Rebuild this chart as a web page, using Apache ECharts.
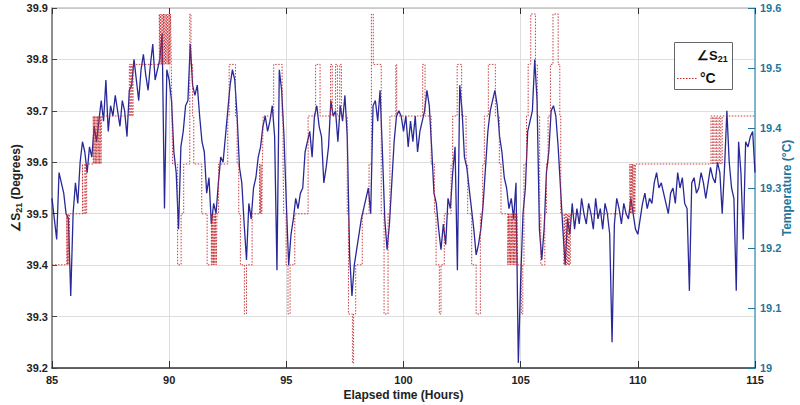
<!DOCTYPE html>
<html>
<head>
<meta charset="utf-8">
<script src="https://cdn.jsdelivr.net/npm/echarts@6/dist/echarts.min.js"></script>
<style>
  html, body { margin: 0; padding: 0; background: #fff; }
  #chart { width: 800px; height: 405px; }
</style>
</head>
<body>
<div id="chart"></div>
<script>
// Elapsed-time axis (hours) and the two y-axis ranges
const hourTicks = [85, 90, 95, 100, 105, 110, 115];
const phaseTicks = [39.2, 39.3, 39.4, 39.5, 39.6, 39.7, 39.8, 39.9];
const tempTicks = [19, 19.1, 19.2, 19.3, 19.4, 19.5, 19.6];

// Phase of S21 (degrees), sampled every 0.1 h starting at 85 h
const phaseStartHour = 85;
const phaseStepHour = 0.1;
const phaseDeg = [
  39.53, 39.49, 39.45, 39.58, 39.56, 39.54, 39.50, 39.49, 39.34, 39.50,
  39.56, 39.52, 39.60, 39.64, 39.62, 39.58, 39.63, 39.61, 39.67, 39.64,
  39.68, 39.72, 39.68, 39.76, 39.66, 39.71, 39.69, 39.73, 39.70, 39.67,
  39.72, 39.70, 39.65, 39.74, 39.75, 39.80, 39.76, 39.72, 39.78, 39.81,
  39.77, 39.74, 39.79, 39.83, 39.76, 39.78, 39.80, 39.85, 39.51, 39.78,
  39.76, 39.72, 39.62, 39.58, 39.47, 39.63, 39.66, 39.71, 39.72, 39.83,
  39.75, 39.73, 39.75, 39.69, 39.64, 39.62, 39.54, 39.57, 39.48, 39.52,
  39.50, 39.56, 39.61, 39.60, 39.65, 39.70, 39.75, 39.78, 39.76, 39.69,
  39.59, 39.56, 39.48, 39.41, 39.52, 39.49, 39.55, 39.57, 39.61, 39.63,
  39.67, 39.69, 39.66, 39.68, 39.71, 39.65, 39.39, 39.78, 39.74, 39.65,
  39.52, 39.40, 39.46, 39.49, 39.53, 39.51, 39.54, 39.55, 39.62, 39.64,
  39.66, 39.61, 39.69, 39.71, 39.67, 39.65, 39.56, 39.59, 39.63, 39.72,
  39.69, 39.70, 39.64, 39.71, 39.68, 39.73, 39.65, 39.42, 39.34, 39.40,
  39.43, 39.46, 39.49, 39.51, 39.53, 39.55, 39.50, 39.71, 39.72, 39.68,
  39.74, 39.62, 39.49, 39.43, 39.48, 39.56, 39.64, 39.69, 39.70, 39.69,
  39.66, 39.69, 39.63, 39.68, 39.64, 39.69, 39.62, 39.66, 39.68, 39.70,
  39.74, 39.71, 39.63, 39.54, 39.52, 39.47, 39.43, 39.48, 39.44, 39.53,
  39.51, 39.58, 39.63, 39.39, 39.75, 39.70, 39.61, 39.59, 39.55, 39.51,
  39.47, 39.42, 39.44, 39.47, 39.52, 39.59, 39.66, 39.70, 39.72, 39.74,
  39.71, 39.65, 39.62, 39.57, 39.55, 39.51, 39.53, 39.49, 39.56, 39.21,
  39.37, 39.50, 39.55, 39.66, 39.68, 39.70, 39.80, 39.72, 39.47, 39.41,
  39.47, 39.58, 39.62, 39.70, 39.71, 39.69, 39.63, 39.55, 39.47, 39.40,
  39.49, 39.46, 39.52, 39.47, 39.51, 39.48, 39.53, 39.50, 39.48, 39.52,
  39.50, 39.47, 39.53, 39.49, 39.51, 39.47, 39.52, 39.50, 39.46, 39.25,
  39.48, 39.53, 39.51, 39.48, 39.52, 39.50, 39.49, 39.53, 39.50, 39.47,
  39.46, 39.49, 39.52, 39.54, 39.51, 39.53, 39.52, 39.56, 39.58, 39.55,
  39.56, 39.54, 39.52, 39.50, 39.54, 39.55, 39.52, 39.58, 39.55, 39.57,
  39.52, 39.51, 39.35, 39.56, 39.57, 39.54, 39.55, 39.58, 39.56, 39.53,
  39.56, 39.59, 39.57, 39.56, 39.60, 39.58, 39.50, 39.59, 39.70, 39.60,
  39.55, 39.53, 39.35, 39.64, 39.58, 39.45, 39.64, 39.63, 39.65, 39.66,
  39.58
];

// Temperature readings (°C): [hour at which the reading changes, new value]
const tempSteps = [
  [85.00, 19.172],
  [85.63, 19.257], [85.66, 19.172], [85.69, 19.257], [85.72, 19.172], [85.75, 19.257],
  [86.30, 19.340], [86.33, 19.257], [86.40, 19.340], [86.44, 19.257], [86.48, 19.340],
  [86.76, 19.420], [86.79, 19.340], [86.82, 19.420], [86.85, 19.340], [86.88, 19.420],
  [86.91, 19.340], [86.94, 19.420], [86.97, 19.340], [87.00, 19.420], [87.03, 19.340],
  [87.06, 19.420], [87.09, 19.340], [87.12, 19.420],
  [88.30, 19.506], [88.34, 19.420], [88.38, 19.506], [88.42, 19.420], [88.46, 19.506],
  [89.58, 19.590], [89.61, 19.506], [89.64, 19.590], [89.67, 19.506], [89.70, 19.590],
  [89.73, 19.506], [89.76, 19.590], [89.79, 19.506], [89.82, 19.590], [89.85, 19.506],
  [89.88, 19.590], [89.91, 19.506], [89.94, 19.590], [89.97, 19.506], [90.00, 19.590],
  [90.03, 19.506], [90.06, 19.590], [90.09, 19.506],
  [90.12, 19.420], [90.15, 19.340], [90.36, 19.172], [90.51, 19.257], [90.62, 19.340],
  [90.88, 19.590], [90.93, 19.506], [91.00, 19.420], [91.05, 19.340],
  [91.39, 19.257], [91.62, 19.172],
  [91.80, 19.257], [91.83, 19.172], [91.86, 19.257], [91.89, 19.172], [91.92, 19.257],
  [91.95, 19.172], [91.98, 19.257], [92.01, 19.172], [92.04, 19.257],
  [92.11, 19.340], [92.50, 19.420], [92.56, 19.506],
  [92.83, 19.420], [92.90, 19.340], [92.97, 19.257], [93.04, 19.172],
  [93.21, 19.090], [93.30, 19.172], [93.54, 19.257],
  [93.86, 19.340], [93.89, 19.257], [93.92, 19.340], [93.95, 19.257], [93.98, 19.340],
  [94.01, 19.420], [94.46, 19.506],
  [94.82, 19.420], [94.86, 19.340], [94.89, 19.257], [94.99, 19.172],
  [95.07, 19.090], [95.16, 19.172], [95.36, 19.257], [95.93, 19.420],
  [96.25, 19.506], [96.44, 19.420], [96.89, 19.506], [96.96, 19.420],
  [97.10, 19.506], [97.18, 19.420], [97.28, 19.506], [97.35, 19.420],
  [97.60, 19.257], [97.65, 19.090], [97.82, 19.008], [97.87, 19.090],
  [97.96, 19.172], [98.24, 19.257], [98.53, 19.340], [98.63, 19.590], [98.71, 19.506],
  [99.05, 19.257], [99.17, 19.090], [99.34, 19.257], [99.42, 19.420],
  [99.67, 19.506], [99.71, 19.420],
  [100.82, 19.506], [100.92, 19.420], [101.18, 19.340], [101.32, 19.257],
  [101.39, 19.172], [101.53, 19.090], [101.60, 19.172], [101.74, 19.257],
  [102.03, 19.340], [102.10, 19.420], [102.29, 19.506], [102.48, 19.420],
  [102.67, 19.340], [102.74, 19.257], [102.91, 19.172], [103.10, 19.090],
  [103.28, 19.257], [103.38, 19.340], [103.45, 19.420], [103.62, 19.506],
  [103.92, 19.420], [104.09, 19.340], [104.16, 19.257],
  [104.45, 19.172], [104.48, 19.257], [104.51, 19.172], [104.54, 19.257], [104.57, 19.172],
  [104.60, 19.257], [104.63, 19.172], [104.66, 19.257], [104.69, 19.172], [104.72, 19.257],
  [104.75, 19.172], [104.78, 19.257], [104.81, 19.172], [104.84, 19.257], [104.87, 19.172],
  [105.03, 19.090], [105.09, 19.172], [105.14, 19.340], [105.25, 19.420],
  [105.32, 19.506], [105.43, 19.590], [105.63, 19.506], [105.71, 19.420],
  [105.81, 19.257], [105.86, 19.172], [106.03, 19.257], [106.10, 19.340],
  [106.17, 19.420], [106.27, 19.506], [106.38, 19.590], [106.60, 19.506],
  [106.67, 19.420], [106.71, 19.257], [106.85, 19.172],
  [106.88, 19.257], [106.92, 19.172], [106.96, 19.257], [107.00, 19.172],
  [107.04, 19.257], [107.08, 19.172], [107.12, 19.257],
  [109.66, 19.340], [109.69, 19.257], [109.72, 19.340], [109.75, 19.257], [109.78, 19.340],
  [109.81, 19.257], [109.84, 19.340], [109.87, 19.257], [109.90, 19.340],
  [113.12, 19.420], [113.18, 19.340], [113.24, 19.420], [113.30, 19.340], [113.36, 19.420],
  [113.42, 19.340], [113.48, 19.420], [113.54, 19.340], [113.60, 19.420],
  [115.00, 19.420]
];

const seriesNames = ['∠S21', '°C'];

const phaseSeries = phaseDeg.map((v, i) => [
  +(phaseStartHour + i * phaseStepHour).toFixed(2), v
]);

const FONT = '"Liberation Sans", Arial, Helvetica, sans-serif';
const TEAL_TEXT = '#1f769c';
const TEAL_LINE = '#64a6bd';
const INK = '#222';

const chart = echarts.init(document.getElementById('chart'), null, { renderer: 'svg' });

chart.setOption({
  animation: false,
  backgroundColor: '#fff',
  grid: { left: 52, right: 45, top: 8, bottom: 37, containLabel: false, outerBoundsMode: 'none' },
  xAxis: [
    {
      type: 'value',
      min: hourTicks[0],
      max: hourTicks[hourTicks.length - 1],
      interval: 5,
      name: 'Elapsed time (Hours)',
      nameLocation: 'middle',
      nameGap: 21,
      nameMoveOverlap: false,
      nameTextStyle: { fontFamily: FONT, fontWeight: 'bold', fontSize: 12, color: INK },
      axisLine: { show: true, onZero: false, lineStyle: { color: '#333', width: 1.6 } },
      axisTick: { show: true, inside: true, length: 7, lineStyle: { color: '#333', width: 1 } },
      axisLabel: { margin: 6, fontFamily: FONT, fontWeight: 'bold', fontSize: 11, color: INK },
      splitLine: { show: true, lineStyle: { color: '#dedede', width: 1 } }
    },
    {
      type: 'value',
      position: 'top',
      min: hourTicks[0],
      max: hourTicks[hourTicks.length - 1],
      interval: 5,
      axisLine: { show: true, onZero: false, lineStyle: { color: '#c4c4c4', width: 1.6 } },
      axisTick: { show: true, inside: true, length: 6, lineStyle: { color: '#333', width: 1 } },
      axisLabel: { show: false },
      splitLine: { show: false }
    }
  ],
  yAxis: [
    {
      type: 'value',
      position: 'left',
      min: phaseTicks[0],
      max: phaseTicks[phaseTicks.length - 1],
      interval: 0.1,
      name: '∠S{sub|21} (Degrees)',
      nameLocation: 'middle',
      nameRotate: 90,
      nameGap: 29,
      nameMoveOverlap: false,
      nameTextStyle: {
        fontFamily: FONT, fontWeight: 'bold', fontSize: 12, color: INK,
        rich: {
          sub: { fontFamily: FONT, fontWeight: 'bold', fontSize: 9, color: INK, padding: [6, 0, 0, 0] }
        }
      },
      axisLine: { show: true, onZero: false, lineStyle: { color: '#777', width: 1.6 } },
      axisTick: { show: true, inside: true, length: 5, lineStyle: { color: '#444', width: 1 } },
      axisLabel: {
        margin: 4, fontFamily: FONT, fontWeight: 'bold', fontSize: 11, color: INK,
        formatter: v => v.toFixed(1)
      },
      splitLine: { show: true, lineStyle: { color: '#dedede', width: 1 } }
    },
    {
      type: 'value',
      position: 'right',
      min: tempTicks[0],
      max: tempTicks[tempTicks.length - 1],
      interval: 0.1,
      name: 'Temperature (°C)',
      nameLocation: 'middle',
      nameRotate: 90,
      nameGap: 26,
      nameMoveOverlap: false,
      nameTextStyle: { fontFamily: FONT, fontWeight: 'bold', fontSize: 12, color: TEAL_TEXT },
      axisLine: { show: true, onZero: false, lineStyle: { color: TEAL_LINE, width: 1.6 } },
      axisTick: { show: true, inside: true, length: 7, lineStyle: { color: TEAL_TEXT, width: 1 } },
      axisLabel: {
        margin: 5, fontFamily: FONT, fontWeight: 'bold', fontSize: 11, color: TEAL_TEXT,
        formatter: v => (Math.abs(v - Math.round(v)) < 1e-9 ? String(Math.round(v)) : v.toFixed(1))
      },
      splitLine: { show: false }
    }
  ],
  series: [
    {
      name: seriesNames[0],
      type: 'line',
      xAxisIndex: 0,
      yAxisIndex: 0,
      data: phaseSeries,
      showSymbol: false,
      symbol: 'none',
      lineStyle: { color: '#16168f', width: 1.3, opacity: 0.92 },
      z: 2
    },
    {
      name: seriesNames[1],
      type: 'line',
      xAxisIndex: 0,
      yAxisIndex: 1,
      data: tempSteps,
      step: 'end',
      showSymbol: false,
      symbol: 'none',
      lineStyle: { color: '#c3282c', width: 1, type: [1.5, 1.5], opacity: 0.9 },
      z: 3
    }
  ],
  graphic: [
    {
      type: 'rect',
      shape: { x: 674.5, y: 42.5, width: 58, height: 47 },
      style: { fill: '#fff', stroke: '#666', lineWidth: 1 },
      z: 10
    },
    {
      type: 'text',
      x: 697, y: 47,
      style: {
        text: '∠S{sub|21}',
        fontFamily: FONT, fontWeight: 'bold', fontSize: 13, fill: '#111',
        rich: { sub: { fontFamily: FONT, fontWeight: 'bold', fontSize: 9, fill: '#111', padding: [7, 0, 0, 0] } }
      },
      z: 11
    },
    {
      type: 'line',
      shape: { x1: 677, y1: 78.5, x2: 697, y2: 78.5 },
      style: { stroke: '#c3282c', lineWidth: 1, lineDash: [1.5, 1.5] },
      z: 11
    },
    {
      type: 'text',
      x: 700, y: 71,
      style: { text: '°C', fontFamily: FONT, fontWeight: 'bold', fontSize: 14, fill: '#111' },
      z: 11
    }
  ]
});
</script>
</body>
</html>
